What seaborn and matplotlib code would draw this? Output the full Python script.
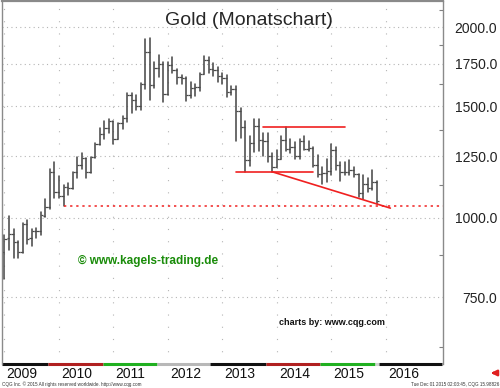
import numpy as np
import pandas as pd
import matplotlib
matplotlib.use("Agg")
import matplotlib.pyplot as plt
import matplotlib.ticker as mticker
import matplotlib.transforms as mtransforms
import seaborn as sns

# Monthly gold bars, Jan 2009 - Nov 2015
opens = [883, 928, 942, 917, 884, 979, 928, 955, 955, 1008, 1040, 1182,
         1097, 1082, 1118, 1115, 1180, 1213, 1244, 1181, 1247, 1309, 1357, 1386,
         1421, 1332, 1409, 1439, 1563, 1536, 1500, 1628, 1829, 1620, 1725, 1746,
         1566, 1740, 1711, 1669, 1664, 1562, 1604, 1611, 1687, 1775, 1717, 1714,
         1675, 1663, 1578, 1595, 1472, 1393, 1233, 1313, 1396, 1328, 1323, 1251,
         1202, 1240, 1326, 1284, 1296, 1250, 1322, 1282, 1287, 1211, 1171, 1175,
         1184, 1279, 1212, 1183, 1182, 1190, 1172, 1095, 1132, 1114, 1141]
highs = [939, 1007, 960, 920, 982, 991, 960, 965, 1023, 1070, 1195, 1227,
         1163, 1125, 1137, 1180, 1249, 1265, 1245, 1248, 1313, 1388, 1424, 1432,
         1423, 1413, 1447, 1575, 1577, 1561, 1632, 1912, 1923, 1763, 1804, 1764,
         1764, 1792, 1718, 1682, 1670, 1640, 1625, 1695, 1798, 1796, 1755, 1727,
         1694, 1683, 1617, 1616, 1488, 1424, 1348, 1434, 1434, 1361, 1361, 1267,
         1280, 1345, 1392, 1331, 1315, 1332, 1345, 1324, 1292, 1256, 1205, 1238,
         1307, 1294, 1224, 1224, 1232, 1205, 1174, 1170, 1157, 1191, 1143]
lows = [801, 890, 865, 865, 880, 908, 904, 931, 940, 1003, 1033, 1075,
        1073, 1045, 1087, 1112, 1155, 1193, 1155, 1178, 1241, 1305, 1330, 1360,
        1309, 1330, 1380, 1417, 1462, 1478, 1481, 1600, 1535, 1603, 1668, 1523,
        1564, 1693, 1628, 1627, 1527, 1547, 1555, 1584, 1687, 1690, 1674, 1636,
        1626, 1554, 1562, 1321, 1338, 1180, 1208, 1271, 1277, 1251, 1227, 1182,
        1202, 1238, 1277, 1268, 1240, 1240, 1280, 1273, 1204, 1160, 1131, 1141,
        1167, 1191, 1142, 1169, 1170, 1162, 1077, 1072, 1098, 1107, 1052]
closes = [927, 942, 916, 883, 979, 927, 955, 955, 1009, 1040, 1182, 1097,
          1082, 1118, 1115, 1180, 1213, 1244, 1181, 1247, 1307, 1357, 1386, 1421,
          1332, 1409, 1439, 1563, 1536, 1500, 1628, 1829, 1620, 1725, 1746, 1566,
          1740, 1711, 1669, 1664, 1562, 1604, 1611, 1687, 1775, 1717, 1714, 1675,
          1663, 1578, 1595, 1472, 1393, 1233, 1313, 1396, 1328, 1323, 1251, 1202,
          1240, 1326, 1284, 1296, 1250, 1322, 1282, 1287, 1211, 1171, 1175, 1184,
          1279, 1212, 1183, 1182, 1190, 1172, 1095, 1132, 1114, 1141, 1065]

years = ["2009", "2010", "2011", "2012", "2013", "2014", "2015", "2016"]
year_months = [0, 12, 24, 36, 48, 60, 72, 84]
price_ticks = [750, 1000, 1250, 1500, 1750, 2000]
minor_ticks = [625, 875, 1125, 1375, 1625, 1875, 2125]

# red lines drawn on the chart (month index, price)
resistance_months = [57, 75]
resistance_prices = [1392, 1392]
support_months = [51, 68]
support_prices = [1182, 1182]
trend_months = [59, 85]
trend_prices = [1182, 1036]
low_2010_month = 13
low_2010_price = 1045

sns.set_style("white")
plt.rcParams['font.family'] = ['Liberation Sans', 'DejaVu Sans']

idx = np.arange(len(opens))
bars = pd.DataFrame({
    'month': np.repeat(idx, 2),
    'price': np.ravel(np.column_stack([lows, highs])),
})

fig = plt.figure(figsize=(5, 3.88), dpi=100)
ax = fig.add_axes([0.004, 0.0619, 0.882, 0.9355])

bar_col = '#4a4a4a'
sns.lineplot(data=bars, x='month', y='price', units='month', estimator=None,
             sort=False, color=bar_col, lw=1.15, ax=ax, legend=False)
ax.hlines(opens, idx - 0.5, idx, color=bar_col, lw=0.9)
ax.hlines(closes, idx, idx + 0.5, color=bar_col, lw=0.9)

red = '#f02020'
sns.lineplot(x=resistance_months, y=resistance_prices, color=red, lw=1.2, ax=ax)
sns.lineplot(x=support_months, y=support_prices, color=red, lw=1.2, ax=ax)
sns.lineplot(x=trend_months, y=trend_prices, color=red, lw=1.2, ax=ax)

ax.set_yscale('log')
ax.set_xlim(-0.55, 96.6)
ax.set_ylim(588, 2199)
ax.hlines(low_2010_price, low_2010_month, 96.6, color=red, lw=1.1,
          linestyles=(0, (1.5, 2.5)))

ax.set_xlabel('')
ax.set_ylabel('')

# y axis on the right
ax.yaxis.tick_right()
ax.yaxis.set_major_locator(mticker.FixedLocator(price_ticks))
ax.yaxis.set_major_formatter(mticker.FixedFormatter([f"{v:.1f}" for v in price_ticks]))
ax.yaxis.set_minor_locator(mticker.FixedLocator(minor_ticks))
ax.yaxis.set_minor_formatter(mticker.NullFormatter())
ax.tick_params(axis='y', which='major', length=0, pad=39, labelsize=10, labelcolor='#222222')
ax.tick_params(axis='y', which='minor', right=True, direction='in', length=3,
               color='#808080', width=0.8)
for lab in ax.get_yticklabels():
    lab.set_ha('right')

# x axis: year labels next to small grey ticks
ax.set_xticks(year_months)
ax.set_xticklabels(years)
ax.tick_params(axis='x', length=11.5, width=1.6, color='#a8a8a8', pad=-9.5,
               labelsize=10, labelcolor='#111111')
offset = mtransforms.ScaledTranslation(2 / 100, 0, fig.dpi_scale_trans)
for lab in ax.get_xticklabels():
    lab.set_ha('left')
    lab.set_transform(lab.get_transform() + offset)

ax.grid(axis='y', which='major', color='#b5b5b5', linestyle=(0, (1, 3)), lw=0.8)
ax.grid(axis='x', which='major', color='#b5b5b5', linestyle=(0, (1, 10)), lw=0.8)

for side in ['left', 'top', 'right']:
    ax.spines[side].set_color('#8a8a8a')
    ax.spines[side].set_linewidth(1.0)
ax.spines['top'].set_linewidth(1.6)
ax.spines['bottom'].set_visible(False)

# coloured period band along the bottom edge
band_edges = [-0.55, 9.6, 21.7, 33.6, 45.3, 57.6, 69.5, 81.6, 82.4, 96.4]
band_colors = ['#111111', '#b02020', '#20b020', '#b8b8b8', '#111111',
               '#b02020', '#20b020', '#d0d0d0', '#111111']
for x0, x1, c in zip(band_edges[:-1], band_edges[1:], band_colors):
    ax.plot([x0, x1], [0, 0], color=c, lw=2.2, transform=ax.get_xaxis_transform(),
            clip_on=False, solid_capstyle='butt')

fig.text(0.498, 0.948, "Gold (Monatschart)", ha='center', va='center', fontsize=14)
fig.text(0.297, 0.328, "© www.kagels-trading.de", ha='center', va='center',
         fontsize=8.5, fontweight='bold', color='#1a8c0a')
fig.text(0.663, 0.168, "charts by: www.cqg.com", ha='center', va='center',
         fontsize=6.5, fontweight='bold', color='#111111')
fig.text(0.004, 0.0103, "CQG Inc. © 2015 All rights reserved worldwide. http://www.cqg.com",
         ha='left', va='center', fontsize=3.3, color='#333333')
fig.text(0.998, 0.0103, "Tue Dec 01 2015 02:03:45, CQG 15.98826",
         ha='right', va='center', fontsize=3.3, color='#333333')
ax.annotate('', xy=(0.976, 0.0387), xytext=(0.998, 0.0387),
            xycoords='figure fraction', textcoords='figure fraction',
            arrowprops=dict(arrowstyle='-|>', color='#e02020', lw=1.8, mutation_scale=8))

fig.savefig("out.png", dpi=100)
